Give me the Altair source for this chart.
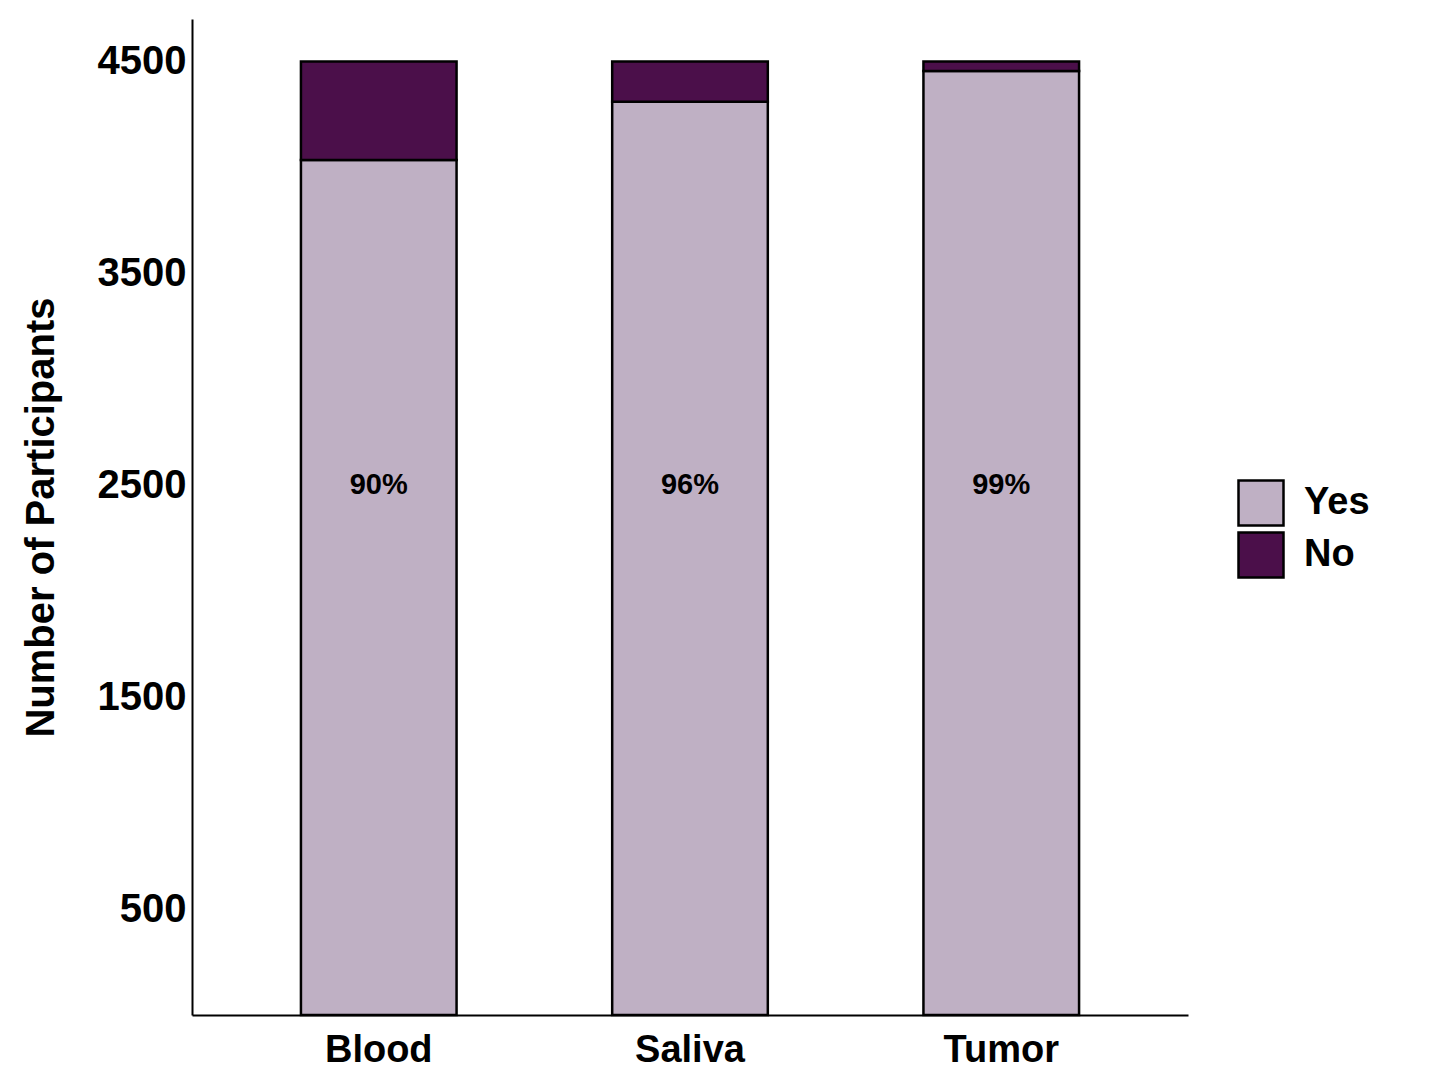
import altair as alt
import pandas as pd

samples = ["Blood", "Saliva", "Tumor"]
yes_counts = [4035, 4310, 4455]
no_counts = [465, 190, 45]
pct_labels = ["90%", "96%", "99%"]
label_pos = [2500, 2500, 2500]
y_ticks = [500, 1500, 2500, 3500, 4500]
statuses = ["Yes", "No"]
colors = ["#BFB0C4", "#4B0F4A"]

rows = []
for s, y, n in zip(samples, yes_counts, no_counts):
    rows.append({"sample": s, "status": "Yes", "count": y, "ord": 0})
    rows.append({"sample": s, "status": "No", "count": n, "ord": 1})
bars_df = pd.DataFrame(rows)
labels_df = pd.DataFrame({"sample": samples, "label": pct_labels, "pos": label_pos})

FONT = "Liberation Sans"

x_enc = alt.X(
    "sample:N",
    sort=samples,
    title=None,
    scale=alt.Scale(paddingInner=0.5, paddingOuter=0.35),
    axis=alt.Axis(
        labelAngle=0, labelFontSize=38, labelFont=FONT, labelFontWeight="bold",
        labelColor="black", labelPadding=16, ticks=False, domainColor="black",
        domainWidth=2, grid=False,
    ),
)

bars = alt.Chart(bars_df).mark_bar(stroke="black", strokeWidth=2.5).encode(
    x=x_enc,
    y=alt.Y(
        "count:Q",
        stack="zero",
        title="Number of Participants",
        scale=alt.Scale(domain=[0, 4700], nice=False),
        axis=alt.Axis(
            values=y_ticks, format="d", labelFontSize=40, labelFont=FONT,
            labelFontWeight="bold", labelColor="black", labelPadding=6, ticks=False,
            domainColor="black", domainWidth=2, grid=False, titleFontSize=40,
            titleFont=FONT, titleFontWeight="bold", titleColor="black", titlePadding=36,
        ),
    ),
    color=alt.Color(
        "status:N",
        sort=statuses,
        scale=alt.Scale(domain=statuses, range=colors),
        title=None,
        legend=alt.Legend(
            orient="none", legendX=1045, legendY=460, padding=0,
            symbolType="square", symbolSize=2025, symbolStrokeColor="black",
            symbolStrokeWidth=2.5, symbolOpacity=1, labelFontSize=38, labelFont=FONT,
            labelFontWeight="bold", labelColor="black", labelOffset=19, rowPadding=-9,
        ),
    ),
    order=alt.Order("ord:Q"),
)

texts = alt.Chart(labels_df).mark_text(
    fontSize=29, font=FONT, fontWeight="bold", color="black"
).encode(
    x=alt.X("sample:N", sort=samples),
    y=alt.Y("pos:Q"),
    text="label:N",
)

chart = alt.layer(bars, texts).properties(
    width=996,
    height=996,
    autosize=alt.AutoSizeParams(type="none"),
    padding={"left": 184, "top": 11, "right": 220, "bottom": 57},
).configure(background="white").configure_view(stroke=None, strokeWidth=0)

chart.save("out.html", embed_options={"renderer": "svg", "actions": False})
